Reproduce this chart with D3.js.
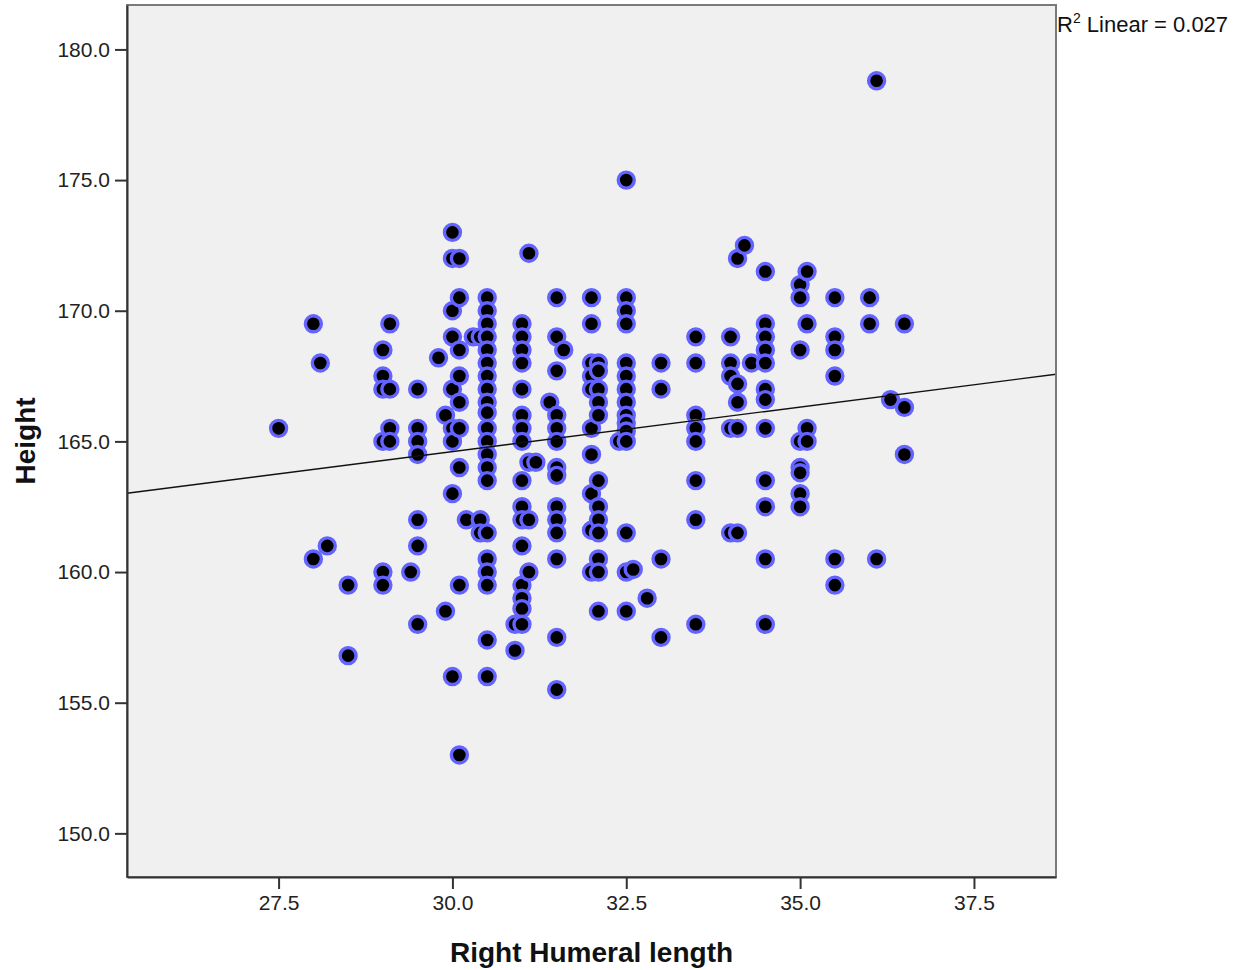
<!DOCTYPE html>
<html>
<head>
<meta charset="utf-8">
<script src="https://cdn.jsdelivr.net/npm/d3@7"></script>
<style>
  body { margin: 0; background: #fff; }
  text { font-family: Arial, "Liberation Sans", sans-serif; }
</style>
</head>
<body>
<div class="chart"></div>
<script>
// Right humeral length (cm) columns and the heights (cm) plotted in each
const humeralColumns = [27.5, 28.0, 28.1, 28.2, 28.5, 29.0, 29.1, 29.4, 29.5, 29.8, 29.9,
  30.0, 30.1, 30.2, 30.3, 30.4, 30.5, 30.9, 31.0, 31.1, 31.2, 31.4, 31.5, 31.6,
  32.0, 32.1, 32.4, 32.5, 32.6, 32.8, 33.0, 33.5, 34.0, 34.1, 34.2, 34.3, 34.5,
  35.0, 35.1, 35.5, 36.0, 36.1, 36.3, 36.5];

const heightColumns = [
  [165.5],
  [169.5, 160.5],
  [168.0],
  [161.0],
  [159.5, 156.8],
  [168.5, 167.5, 167.0, 165.0, 160.0, 159.5],
  [169.5, 167.0, 165.5, 165.0],
  [160.0],
  [167.0, 165.5, 165.0, 164.5, 162.0, 161.0, 158.0],
  [168.2],
  [166.0, 158.5],
  [173.0, 172.0, 170.0, 169.0, 167.0, 165.5, 165.0, 163.0, 156.0],
  [172.0, 170.5, 168.5, 167.5, 166.5, 165.5, 164.0, 159.5, 153.0],
  [162.0],
  [169.0],
  [169.0, 162.0, 161.5],
  [170.5, 170.0, 169.5, 169.0, 168.5, 168.0, 167.5, 167.0, 166.5, 166.1, 165.5,
   165.0, 164.5, 164.0, 163.5, 161.5, 160.5, 160.0, 159.5, 157.4, 156.0],
  [158.0, 157.0],
  [169.5, 169.0, 168.5, 168.0, 167.0, 166.0, 165.5, 165.0, 163.5, 162.5, 162.0,
   161.0, 159.5, 159.0, 158.6, 158.0],
  [172.2, 164.2, 162.0, 160.0],
  [164.2],
  [166.5],
  [170.5, 169.0, 167.7, 166.0, 165.5, 165.0, 164.0, 163.7, 162.5, 162.0, 161.5,
   160.5, 157.5, 155.5],
  [168.5],
  [170.5, 169.5, 168.0, 167.5, 167.0, 165.5, 164.5, 163.0, 161.6, 160.0],
  [168.0, 167.7, 167.0, 166.5, 166.0, 163.5, 162.5, 162.0, 161.5, 160.5, 160.0, 158.5],
  [165.0],
  [175.0, 170.5, 170.0, 169.5, 168.0, 167.5, 167.0, 166.5, 166.0, 165.7, 165.4,
   165.0, 161.5, 160.0, 158.5],
  [160.1],
  [159.0],
  [168.0, 167.0, 160.5, 157.5],
  [169.0, 168.0, 166.0, 165.5, 165.0, 163.5, 162.0, 158.0],
  [169.0, 168.0, 167.5, 165.5, 161.5],
  [172.0, 167.2, 166.5, 165.5, 161.5],
  [172.5],
  [168.0],
  [171.5, 169.5, 169.0, 168.5, 168.0, 167.0, 166.6, 165.5, 163.5, 162.5, 160.5, 158.0],
  [171.0, 170.5, 168.5, 165.0, 164.0, 163.8, 163.0, 162.5],
  [171.5, 169.5, 165.5, 165.0],
  [170.5, 169.0, 168.5, 167.5, 160.5, 159.5],
  [170.5, 169.5],
  [178.8, 160.5],
  [166.6],
  [169.5, 166.3, 164.5]
];

const xTicks = [27.5, 30.0, 32.5, 35.0, 37.5];
const yTicks = [150, 155, 160, 165, 170, 175, 180];
const xDomain = [25.32, 38.68];
const yDomain = [148.33, 181.70];

// linear fit
const fitIntercept = 154.39;
const fitSlope = 0.3407;
const rSquared = "0.027";

// set the dimensions and margins of the graph
const margin = { top: 5, right: 183, bottom: 93, left: 127 };
const width = 1239 - margin.left - margin.right;
const height = 970 - margin.top - margin.bottom;

const svg = d3.select(".chart")
                .append("svg")
                .attr("width", width + margin.left + margin.right)
                .attr("height", height + margin.top + margin.bottom)
                .append("g")
                .attr("transform", `translate(${margin.left}, ${margin.top})`);

// soft edge on the markers
svg.append("defs").append("filter")
    .attr("id", "soft")
    .append("feGaussianBlur")
    .attr("stdDeviation", 0.5);

const x = d3.scaleLinear().domain(xDomain).range([0, width]);
const y = d3.scaleLinear().domain(yDomain).range([height, 0]);

// plot background
svg.append("rect")
    .attr("width", width)
    .attr("height", height)
    .attr("fill", "#f0f0f0");

const points = humeralColumns.flatMap((hx, i) => heightColumns[i].map(h => ({ x: hx, y: h })));

// Add dots
svg.append("g")
    .attr("filter", "url(#soft)")
    .selectAll("circle")
    .data(points)
    .join("circle")
        .attr("cx", d => x(d.x))
        .attr("cy", d => y(d.y))
        .attr("r", 8)
        .attr("fill", "#000")
        .attr("stroke", "#6363ff")
        .attr("stroke-width", 3.4);

// fit line
svg.append("line")
    .attr("x1", x(xDomain[0]))
    .attr("y1", y(fitIntercept + fitSlope * xDomain[0]))
    .attr("x2", x(xDomain[1]))
    .attr("y2", y(fitIntercept + fitSlope * xDomain[1]))
    .attr("stroke", "#111")
    .attr("stroke-width", 1.4);

// frame
svg.append("rect")
    .attr("width", width)
    .attr("height", height)
    .attr("fill", "none")
    .attr("stroke", "#7a7a7a")
    .attr("stroke-width", 2);

// Add X axis
const xAxis = svg.append("g")
    .attr("transform", `translate(0, ${height})`)
    .call(d3.axisBottom(x).tickValues(xTicks).tickFormat(d3.format(".1f"))
        .tickSize(12).tickSizeOuter(0).tickPadding(6));

// Add Y axis
const yAxis = svg.append("g")
    .call(d3.axisLeft(y).tickValues(yTicks).tickFormat(d3.format(".1f"))
        .tickSize(12).tickSizeOuter(0).tickPadding(5));

[xAxis, yAxis].forEach(g => {
    g.select(".domain").attr("stroke", "#333").attr("stroke-width", 2);
    g.selectAll(".tick line").attr("stroke", "#333").attr("stroke-width", 2);
    g.selectAll(".tick text")
        .attr("fill", "#222")
        .style("font-size", "21px")
        .style("font-family", "Arial, 'Liberation Sans', sans-serif");
});

// axis titles
svg.append("text")
    .attr("x", width / 2)
    .attr("y", height + 85)
    .attr("text-anchor", "middle")
    .style("font-size", "28px")
    .style("font-weight", "bold")
    .attr("fill", "#111")
    .text("Right Humeral length");

svg.append("text")
    .attr("transform", `translate(${35 - margin.left}, ${height / 2}) rotate(-90)`)
    .attr("text-anchor", "middle")
    .style("font-size", "28px")
    .style("font-weight", "bold")
    .attr("fill", "#111")
    .text("Height");

// R squared label
const r2 = svg.append("text")
    .attr("x", width + 1)
    .attr("y", 27)
    .style("font-size", "22px")
    .attr("fill", "#111");
r2.append("tspan").text("R");
r2.append("tspan").attr("dy", -9).style("font-size", "14px").text("2");
r2.append("tspan").attr("dy", 9).text(` Linear = ${rSquared}`);
</script>
</body>
</html>
